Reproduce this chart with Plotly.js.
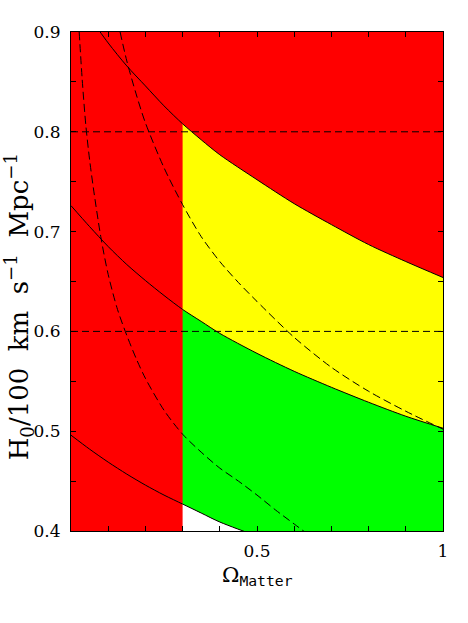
<!DOCTYPE html>
<html>
<head>
<meta charset="utf-8">
<script src="https://cdn.plot.ly/plotly-3.0.1.min.js"></script>
<style>
  html, body { margin: 0; padding: 0; background: #fff; }
  #chart { width: 468px; height: 623px; }
</style>
</head>
<body>
<div id="chart"></div>
<script>
// Omega_matter grid for the solid (open universe) curves
const omegaGrid = [0, 0.05, 0.1, 0.15, 0.2, 0.25, 0.3, 0.35, 0.4, 0.5, 0.6, 0.7, 0.8, 0.9, 1.0];
const hTop    = [0.943, 0.915, 0.889, 0.866, 0.846, 0.826, 0.808, 0.792, 0.777, 0.752, 0.728, 0.707, 0.687, 0.670, 0.654];
const hMiddle = [0.726, 0.705, 0.685, 0.667, 0.651, 0.636, 0.622, 0.610, 0.598, 0.578, 0.560, 0.544, 0.529, 0.515, 0.503];
const hBottom = [0.496, 0.482, 0.469, 0.457, 0.446, 0.436, 0.427, 0.418, 0.409, 0.395, 0.383, 0.372, 0.362, 0.352, 0.344];

// dashed (flat) curves
const dashAX = [0.022, 0.03, 0.04, 0.05, 0.06, 0.08, 0.1, 0.125, 0.15, 0.175, 0.2, 0.25, 0.3, 0.35, 0.4, 0.45, 0.5, 0.55, 0.6, 0.65];
const dashAY = [0.9, 0.853, 0.806, 0.772, 0.744, 0.695, 0.657, 0.622, 0.596, 0.573, 0.553, 0.521, 0.497, 0.479, 0.463, 0.450, 0.436, 0.421, 0.407, 0.393];
const dashBX = [0.132, 0.15, 0.175, 0.2, 0.25, 0.3, 0.35, 0.4, 0.45, 0.5, 0.6, 0.7, 0.8, 0.9, 1.0];
const dashBY = [0.9, 0.871, 0.838, 0.809, 0.764, 0.727, 0.695, 0.670, 0.649, 0.630, 0.594, 0.564, 0.540, 0.520, 0.502];

// horizontal reference values
const hLines = [0.6, 0.8];

const omegaCut = 0.3;
const xRange = [0, 1];
const yRange = [0.4, 0.9];

const xTickVals = [0.1, 0.2, 0.3, 0.4, 0.5, 0.6, 0.7, 0.8, 0.9, 1];
const xTickText = ["", "", "", "", "0.5", "", "", "", "", "1"];
const yTickVals = [0.4, 0.45, 0.5, 0.55, 0.6, 0.65, 0.7, 0.75, 0.8, 0.85, 0.9];
const yTickText = ["0.4", "", "0.5", "", "0.6", "", "0.7", "", "0.8", "", "0.9"];

const RED = "#ff0000", YELLOW = "#ffff00", GREEN = "#00ff00", WHITE = "#ffffff";
const SMOOTH = 0.8;

// part of the curves right of the cut
let rx = [], rTop = [], rMid = [], rBot = [];
omegaGrid.forEach(function (x, i) {
    if (x >= omegaCut) {
        rx.push(x); rTop.push(hTop[i]); rMid.push(hMiddle[i]); rBot.push(hBottom[i]);
    }
});

function band(xs, ys, color) {
    return { x: xs, y: ys, type: "scatter", mode: "lines",
             fill: color ? "tonexty" : "none", fillcolor: color,
             line: { width: 0, shape: "spline", smoothing: SMOOTH },
             hoverinfo: "skip", showlegend: false };
}
function flat(xs, v) { return xs.map(function () { return v; }); }

let traces = [];
// red everywhere underneath
traces.push(band(xRange.slice(), flat(xRange, yRange[0]), null));
traces.push(band(xRange.slice(), flat(xRange, yRange[1]), RED));
// allowed region right of the cut
traces.push(band(rx, flat(rx, yRange[0]), null));
traces.push(band(rx, rBot, WHITE));
traces.push(band(rx, rMid, GREEN));
traces.push(band(rx, rTop, YELLOW));

function curve(xs, ys, dash) {
    return { x: xs.slice(), y: ys.slice(), type: "scatter", mode: "lines",
             line: { color: "#000", width: 1, dash: dash, shape: "spline", smoothing: SMOOTH },
             hoverinfo: "skip", showlegend: false };
}

[hTop, hMiddle, hBottom].forEach(function (ys) { traces.push(curve(omegaGrid, ys, "solid")); });
traces.push(curve(dashAX, dashAY, "8px,4px"));
traces.push(curve(dashBX, dashBY, "8px,4px"));
hLines.forEach(function (h) { traces.push(curve(xRange, [h, h], "7px,4px")); });

const tickFont = { family: "DejaVu Serif", size: 17, color: "#000" };
const nb = "\u00a0\u00a0";

const layout = {
    width: 468, height: 623,
    margin: { l: 71, r: 25, t: 32, b: 92 },
    paper_bgcolor: "#fff", plot_bgcolor: RED,
    showlegend: false,
    xaxis: {
        range: xRange.slice(), showgrid: false, zeroline: false,
        showline: true, linecolor: "#000", linewidth: 1, mirror: "ticks",
        ticks: "inside", ticklen: 5, tickcolor: "#000",
        tickvals: xTickVals, ticktext: xTickText, tickfont: tickFont,
        ticklabelstandoff: 5
    },
    yaxis: {
        range: yRange.slice(), showgrid: false, zeroline: false,
        showline: true, linecolor: "#000", linewidth: 1, mirror: "ticks",
        ticks: "inside", ticklen: 5, tickcolor: "#000",
        tickvals: yTickVals, ticktext: yTickText, tickfont: tickFont,
        ticklabelstandoff: 6
    },
    annotations: [
        {
            text: "H<sub>0</sub>/100" + nb + "km" + nb + "s<sup>\u22121</sup>" + nb + "Mpc<sup>\u22121</sup>",
            xref: "paper", yref: "paper", x: -0.14, y: 0.45,
            xanchor: "center", yanchor: "middle", textangle: -90, showarrow: false,
            font: { family: "DejaVu Serif", size: 26, color: "#000" }
        },
        {
            text: "\u03a9<sub><span style='font-family:DejaVu Sans Mono'>Matter</span></sub>",
            xref: "paper", yref: "paper", x: 0.5, y: -0.09,
            xanchor: "center", yanchor: "middle", showarrow: false,
            font: { family: "DejaVu Serif", size: 21, color: "#000" }
        }
    ]
};

Plotly.newPlot("chart", traces, layout, { staticPlot: true });
</script>
</body>
</html>
